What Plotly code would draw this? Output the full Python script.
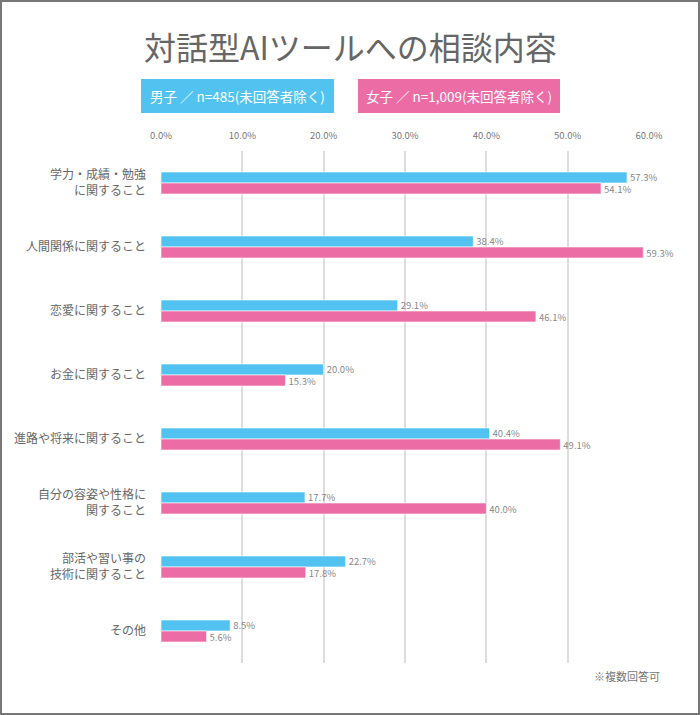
import plotly.graph_objects as go

categories = ["学力・成績・勉強<br>に関すること", "人間関係に関すること", "恋愛に関すること",
              "お金に関すること", "進路や将来に関すること", "自分の容姿や性格に<br>関すること",
              "部活や習い事の<br>技術に関すること", "その他"]
male = [57.3, 38.4, 29.1, 20.0, 40.4, 17.7, 22.7, 8.5]
female = [54.1, 59.3, 46.1, 15.3, 49.1, 40.0, 17.8, 5.6]
tick_vals = [0, 10, 20, 30, 40, 50, 60]
tick_text = ["0.0%", "10.0%", "20.0%", "30.0%", "40.0%", "50.0%", "60.0%"]
male_label = "男子 ／ n=485(未回答者除く)"
female_label = "女子 ／ n=1,009(未回答者除く)"

BLUE = "#52C3F0"
PINK = "#EC6CA5"
FONT = "Noto Sans CJK JP"

W, H = 700, 715
ML, MR, MT, MB = 161, 51, 151, 52
PW, PH = W - ML - MR, H - MT - MB

def px(x):
    return (x - ML) / PW

def py(y):
    return 1 - (y - MT) / PH

fig = go.Figure()
for name, vals, col in [("男子", male, BLUE), ("女子", female, PINK)]:
    fig.add_trace(go.Bar(
        y=categories, x=vals, orientation="h", name=name,
        marker=dict(color=col, line=dict(color="rgba(255,255,255,0.6)", width=1)),
        text=[f"{v:.1f}%" for v in vals], textposition="outside",
        textfont=dict(size=9.5, color="#888888", family=FONT),
        constraintext="none",
        cliponaxis=False,
    ))

shapes = [
    dict(type="rect", xref="paper", yref="paper", x0=px(1), x1=px(W - 1), y0=py(H - 1), y1=py(1),
         line=dict(color="#777777", width=2), fillcolor="rgba(0,0,0,0)", layer="above"),
    dict(type="rect", xref="paper", yref="paper", x0=px(141), x1=px(334), y0=py(113), y1=py(79),
         line=dict(width=0), fillcolor=BLUE),
    dict(type="rect", xref="paper", yref="paper", x0=px(358), x1=px(560), y0=py(113), y1=py(79),
         line=dict(width=0), fillcolor=PINK),
]
annotations = [
    dict(text="対話型AIツールへの相談内容", xref="paper", yref="paper", x=px(350), y=py(46),
         showarrow=False, font=dict(size=32, color="#666666", family=FONT), xanchor="center", yanchor="middle"),
    dict(text=male_label, xref="paper", yref="paper", x=px(237.5), y=py(96),
         showarrow=False, font=dict(size=13.5, color="white", family=FONT), xanchor="center", yanchor="middle"),
    dict(text=female_label, xref="paper", yref="paper", x=px(459), y=py(96),
         showarrow=False, font=dict(size=13.5, color="white", family=FONT), xanchor="center", yanchor="middle"),
    dict(text="※複数回答可", xref="paper", yref="paper", x=px(662), y=py(676),
         showarrow=False, font=dict(size=11, color="#777777", family=FONT), xanchor="right", yanchor="middle"),
]

fig.update_layout(
    width=W, height=H,
    margin=dict(l=ML, r=MR, t=MT, b=MB),
    paper_bgcolor="white", plot_bgcolor="white",
    barmode="group", bargap=0.656, bargroupgap=0,
    showlegend=False,
    font=dict(family=FONT, color="#666666"),
    shapes=shapes, annotations=annotations,
    xaxis=dict(range=[0, 60], side="top", tickvals=tick_vals, ticktext=tick_text,
               tickfont=dict(size=9.5, color="#777777"), showgrid=True, gridcolor="#DDDDDD",
               gridwidth=1.5, zeroline=False, showline=False, ticks="", ticklabelstandoff=9),
    yaxis=dict(autorange="reversed", tickfont=dict(size=12, color="#666666"),
               showgrid=False, zeroline=False, showline=False, ticks="", ticklabelstandoff=14),
)

fig.write_html("out.html")
